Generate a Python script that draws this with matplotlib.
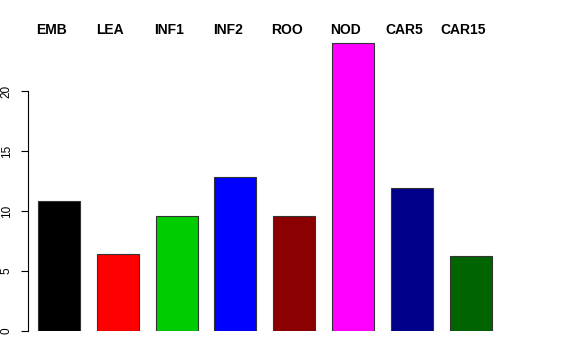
import matplotlib
matplotlib.use("Agg")
import matplotlib.pyplot as plt
import matplotlib.transforms as mtransforms
import numpy as np

labels = ["EMB", "LEA", "INF1", "INF2", "ROO", "NOD", "CAR5", "CAR15"]
values = [10.83, 6.42, 9.58, 12.83, 9.58, 24.0, 11.92, 6.25]
colors = ["#000000", "#FF0000", "#00CD00", "#0000FF", "#8B0000", "#FF00FF", "#00008B", "#006400"]

plt.rcParams['font.family'] = ['Liberation Sans', 'DejaVu Sans']

W, H = 576, 360
fig = plt.figure(figsize=(W / 100, H / 100), dpi=100)
# axes in pixel terms: left spine at x=28, zero at y=331
left_px, right_px, bottom_px, top_px = 28, 520, 331, 20
ax = fig.add_axes([left_px / W, 1 - bottom_px / H,
                   (right_px - left_px) / W, (bottom_px - top_px) / H])

# R-style barplot: width 1, space 0.4
space = 0.4
lefts = space + np.arange(len(values)) * (1 + space)
centers = lefts + 0.5
ax.bar(centers, values, width=1, color=colors, edgecolor="#333333", linewidth=0.8)

unit = 42.0
x0 = 38 - space * unit  # pixel for data x=0
ax.set_xlim((left_px - x0) / unit, (right_px - x0) / unit)
ax.set_ylim(0, (bottom_px - top_px) / 12.0)

for s in ["top", "right", "bottom"]:
    ax.spines[s].set_visible(False)
ax.spines["left"].set_bounds(0, 20)
ax.spines["left"].set_linewidth(0.8)
ax.set_xticks([])
ax.set_yticks([0, 5, 10, 15, 20])
ax.tick_params(axis="y", length=5, width=0.8, pad=6, labelsize=8.5)
for t in ax.get_yticklabels():
    t.set_rotation(90)
    t.set_va("center")

# labels sit a little left of the bar centres
trans = mtransforms.blended_transform_factory(ax.transData, fig.transFigure)
for c, lab in zip(centers, labels):
    ax.text(c - 7.5 / unit, 1 - 30 / H, lab, transform=trans, ha="center", va="center",
            fontsize=10, fontweight="bold")

fig.savefig("out.png", dpi=100)
